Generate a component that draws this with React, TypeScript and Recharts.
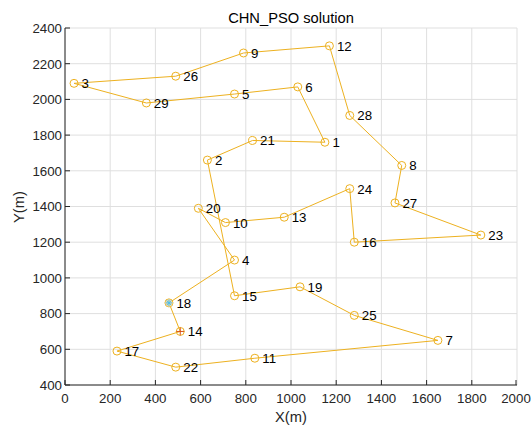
import React from "react";
import { ComposedChart, Line, Scatter, XAxis, YAxis, CartesianGrid } from "recharts";

// city coordinates, city n is at index n - 1
const cityX = [1150, 630, 40, 750, 750, 1030, 1650, 1490, 790, 710, 840, 1170, 970, 510, 750, 1280, 230, 460, 1040, 590, 830, 490, 1840, 1260, 1280, 490, 1460, 1260, 360];
const cityY = [1760, 1660, 2090, 1100, 2030, 2070, 650, 1630, 2260, 1310, 550, 2300, 1340, 700, 900, 1200, 590, 860, 950, 1390, 1770, 500, 1240, 1500, 790, 2130, 1420, 1910, 1980];
const route = [18, 4, 20, 10, 13, 24, 16, 23, 27, 8, 28, 12, 9, 26, 3, 29, 5, 6, 1, 21, 2, 15, 19, 25, 7, 11, 22, 17, 14, 18];
const startCity = 18;
const endCity = 14;

const xTicks = [0, 200, 400, 600, 800, 1000, 1200, 1400, 1600, 1800, 2000];
const yTicks = [400, 600, 800, 1000, 1200, 1400, 1600, 1800, 2000, 2200, 2400];

const cities = cityX.map((x, i) => ({ city: i + 1, x, y: cityY[i] }));
const path = route.map((c) => cities[c - 1]);
const startPt = [cities[startCity - 1]];
const endPt = [cities[endCity - 1]];

const FONT = '"Liberation Sans", Arial, Helvetica, sans-serif';
const AXIS = "#262626";
const ROUTE = "#EDB120";
const TICK = 5;
const FS = 13.3;

function BottomTick({ x, y, payload }: any) {
  return (
    <g>
      <line x1={x} y1={y} x2={x} y2={y - TICK} stroke={AXIS} />
      <text x={x} y={y + 18} textAnchor="middle" fontSize={FS} fontFamily={FONT} fill={AXIS}>
        {payload.value}
      </text>
    </g>
  );
}

function LeftTick({ x, y, payload }: any) {
  return (
    <g>
      <line x1={x} y1={y} x2={x + TICK} y2={y} stroke={AXIS} />
      <text x={x - 3} y={y + 4.8} textAnchor="end" fontSize={FS} fontFamily={FONT} fill={AXIS}>
        {payload.value}
      </text>
    </g>
  );
}

function TopTick({ x, y }: any) {
  return <line x1={x} y1={y} x2={x} y2={y + TICK} stroke={AXIS} />;
}

function RightTick({ x, y }: any) {
  return <line x1={x} y1={y} x2={x - TICK} y2={y} stroke={AXIS} />;
}

function CityMark({ cx, cy, payload }: any) {
  return (
    <g>
      <circle cx={cx} cy={cy} r={4} fill="none" stroke={ROUTE} />
      <text x={cx + 7.5} y={cy + 5} fontSize={FS} fontFamily={FONT} fill="#000">
        {payload.city}
      </text>
    </g>
  );
}

function StartMark({ cx, cy }: any) {
  const r = 3.5;
  const d = r * 0.707;
  return (
    <g stroke="#4DBEEE" strokeWidth={1}>
      <circle cx={cx} cy={cy} r={3.5} fill="#f6d9a0" stroke="none" />
      <line x1={cx - r} y1={cy} x2={cx + r} y2={cy} />
      <line x1={cx} y1={cy - r} x2={cx} y2={cy + r} />
      <line x1={cx - d} y1={cy - d} x2={cx + d} y2={cy + d} />
      <line x1={cx - d} y1={cy + d} x2={cx + d} y2={cy - d} />
    </g>
  );
}

function EndMark({ cx, cy }: any) {
  const r = 4;
  return (
    <g stroke="#D95319" strokeWidth={1}>
      <line x1={cx - r} y1={cy} x2={cx + r} y2={cy} />
      <line x1={cx} y1={cy - r} x2={cx} y2={cy + r} />
    </g>
  );
}

// x label and the title are both drawn from the bottom axis label
function XLabelAndTitle() {
  return (
    <g>
      <text x={291} y={22.5} textAnchor="middle" fontSize={14.7} fontFamily={FONT} fill="#000">
        CHN_PSO solution
      </text>
      <text x={291} y={422} textAnchor="middle" fontSize={14.7} fontFamily={FONT} fill={AXIS}>
        X(m)
      </text>
    </g>
  );
}

function YLabel() {
  return (
    <text x={24} y={207} transform="rotate(-90 24 207)" textAnchor="middle" fontSize={14.7} fontFamily={FONT} fill={AXIS}>
      Y(m)
    </text>
  );
}

export default function App() {
  return (
    <div style={{ position: "absolute", left: 0, top: 0, background: "#fff" }}>
      <ComposedChart width={532} height={427} margin={{ top: 28, right: 15, bottom: 0, left: 0 }}>
        <CartesianGrid stroke="#dfdfdf" />
        <XAxis
          dataKey="x"
          type="number"
          domain={[0, 2000]}
          ticks={xTicks}
          height={42}
          tickSize={0}
          tickMargin={0}
          stroke={AXIS}
          tick={<BottomTick />}
          label={{ content: <XLabelAndTitle /> }}
        />
        <XAxis
          xAxisId="top"
          orientation="top"
          type="number"
          domain={[0, 2000]}
          ticks={xTicks}
          height={0}
          tickSize={0}
          tickMargin={0}
          stroke={AXIS}
          tick={<TopTick />}
        />
        <YAxis
          dataKey="y"
          type="number"
          domain={[400, 2400]}
          ticks={yTicks}
          width={65}
          tickSize={0}
          tickMargin={0}
          stroke={AXIS}
          tick={<LeftTick />}
          label={{ content: <YLabel /> }}
        />
        <YAxis
          yAxisId="right"
          orientation="right"
          type="number"
          domain={[400, 2400]}
          ticks={yTicks}
          width={0}
          tickSize={0}
          tickMargin={0}
          stroke={AXIS}
          tick={<RightTick />}
        />
        <Line
          data={path}
          dataKey="y"
          type="linear"
          stroke={ROUTE}
          strokeWidth={1}
          dot={false}
          isAnimationActive={false}
        />
        <Scatter data={cities} dataKey="y" shape={<CityMark />} isAnimationActive={false} />
        <Scatter data={startPt} dataKey="y" shape={<StartMark />} isAnimationActive={false} />
        <Scatter data={endPt} dataKey="y" shape={<EndMark />} isAnimationActive={false} />
      </ComposedChart>
    </div>
  );
}
